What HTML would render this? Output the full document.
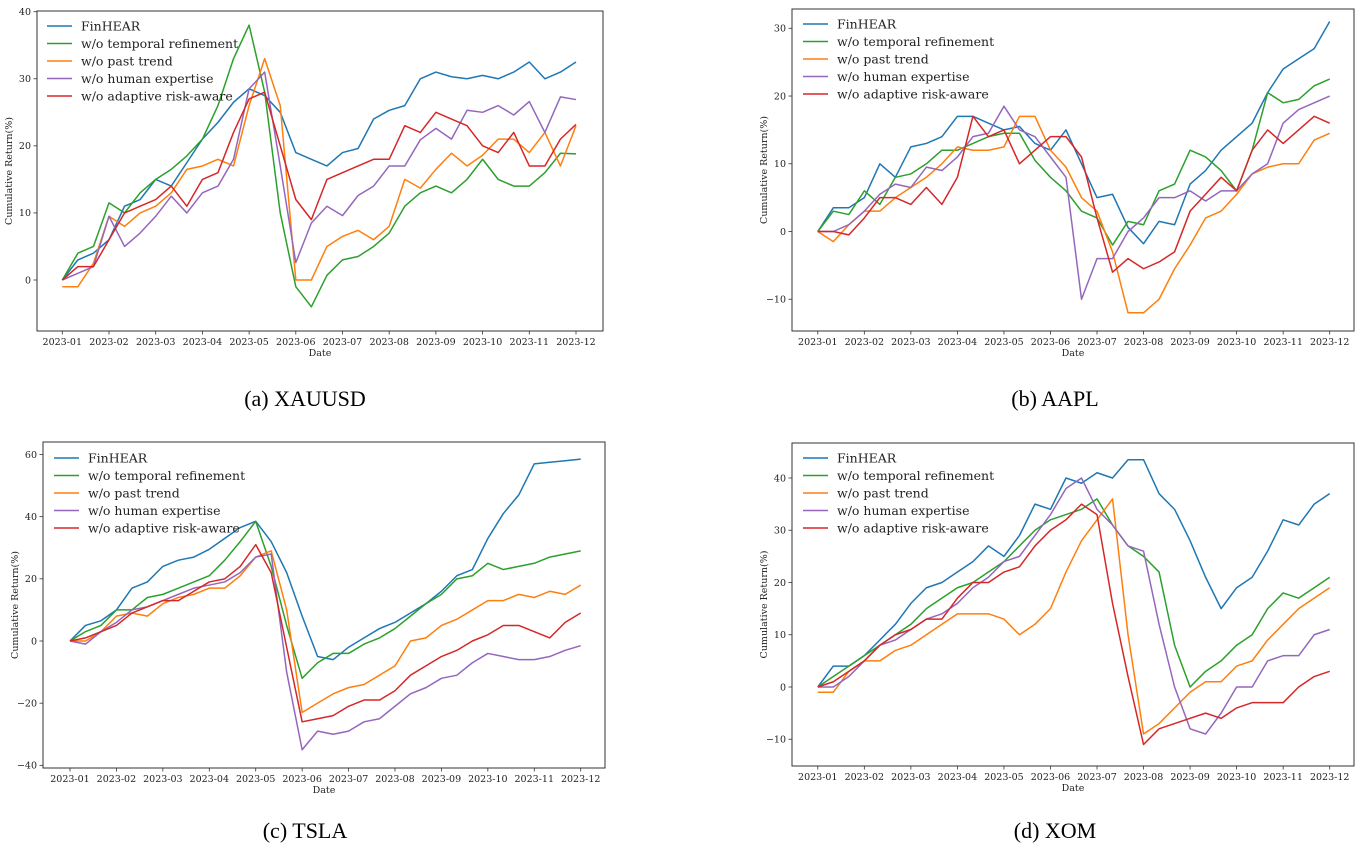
<!DOCTYPE html>
<html><head><meta charset="utf-8">
<style>
html,body{margin:0;padding:0;background:#fff;}
svg{display:block;}
text{font-family:"DejaVu Serif","Liberation Serif",serif;}
.cap{font-family:"Liberation Serif","Times New Roman",serif;font-size:22px;}
</style></head>
<body>
<svg id="fig" width="1356" height="846" viewBox="0 0 1356 846" xmlns="http://www.w3.org/2000/svg">
<text class="cap" x="305" y="406" text-anchor="middle">(a) XAUUSD</text>
<text class="cap" x="1055" y="406" text-anchor="middle">(b) AAPL</text>
<text class="cap" x="305" y="838" text-anchor="middle">(c) TSLA</text>
<text class="cap" x="1055" y="838" text-anchor="middle">(d) XOM</text>
</svg>
<script>
const monthLabels = ['2023-01','2023-02','2023-03','2023-04','2023-05','2023-06','2023-07','2023-08','2023-09','2023-10','2023-11','2023-12'];
const seriesNames = ['FinHEAR','w/o temporal refinement','w/o past trend','w/o human expertise','w/o adaptive risk-aware'];
// values sampled every 1/3 month from 2023-01 to 2023-12
const xauFinhear = [0,3,4,6,11,12,15,14,17.5,21,23.5,26.5,28.5,27.5,25,19,18,17,19,19.6,24,25.3,26,30,31,30.3,30,30.5,30,31,32.5,30,31,32.5];
const xauTemporal = [0,4,5,11.5,10,13,15,16.5,18.5,21,26,33,38,28,10,-1,-4,0.7,3,3.5,5,7,11,13,14,13,15,18,15,14,14,16,18.9,18.8];
const xauTrend = [-1,-1,2.5,9.5,8,10,11,13,16.5,17,18,17,26,33,26,0,0,5,6.5,7.4,6,8,15,13.7,16.5,18.9,17,18.6,21,21,19,22,17,23];
const xauHuman = [0,1,2,9.5,5,7,9.5,12.5,10,13,14,18,28.5,31,17,2.6,8.5,11,9.6,12.6,14,17,17,20.9,22.6,21,25.3,25,26,24.6,26.6,22,27.3,26.9];
const xauRisk = [0,2,2,6,10,11,12,14,11,15,16,22,27,28,20,12,9,15,16,17,18,18,23,22,25,24,23,20,19,22,17,17,21,23.2];

const aaplFinhear = [0,3.5,3.5,5,10,8,12.5,13,14,17,17,16,15,15.5,13,12,15,10,5,5.5,0.6,-1.8,1.5,1,7,9,12,14,16,20.5,24,25.5,27,31];
const aaplTemporal = [0,3,2.5,6,4,8,8.5,10,12,12,13,14,14.5,14.5,10.5,8,6,3,2,-2,1.5,1,6,7,12,11,9,6,12,20.5,19,19.5,21.5,22.5];
const aaplTrend = [0,-1.5,1,3,3,5,6.5,8,10,12.5,12,12,12.5,17,17,12,9.5,5,3,-3,-12,-12,-10,-5.5,-2,2,3,5.5,8.5,9.5,10,10,13.5,14.5];
const aaplHuman = [0,0,1,3,5.5,7,6.5,9.5,9,11,14,14.5,18.5,15,14,11,8,-10,-4,-4,0,2,5,5,6,4.5,6,6,8.5,10,16,18,19,20];
const aaplRisk = [0,0,-0.5,2,5,5,4,6.5,4,8,17,14,15,10,12,14,14,11,2,-6,-4,-5.5,-4.5,-3,3,5.5,8,6,12,15,13,15,17,16];

const tslaFinhear = [0,5,6.5,10,17,19,24,26,27,29.5,33,36.5,38.5,32,22,8,-5,-6,-2,1,4,6,9,12,16,21,23,33,41,47,57,57.5,58,58.5];
const tslaTemporal = [0,3,5,10,10,14,15,17,19,21,26,32,38.5,24,5,-12,-7,-4,-4,-1,1,4,8,12,15,20,21,25,23,24,25,27,28,29];
const tslaTrend = [0,0,3,8,9,8,12,14,15,17,17,21,27,29,10,-23,-20,-17,-15,-14,-11,-8,0,1,5,7,10,13,13,15,14,16,15,18];
const tslaHuman = [0,-1,3,6,10,11,13,15,17,18,19,22,27,28,-10,-35,-29,-30,-29,-26,-25,-21,-17,-15,-12,-11,-7,-4,-5,-6,-6,-5,-3,-1.5];
const tslaRisk = [0,1,3,5,9,11,13,13,16,19,20,24,31,22,-2,-26,-25,-24,-21,-19,-19,-16,-11,-8,-5,-3,0,2,5,5,3,1,6,9];

const xomFinhear = [0,4,4,6,9,12,16,19,20,22,24,27,25,29,35,34,40,39,41,40,43.5,43.5,37,34,28,21,15,19,21,26,32,31,35,37];
const xomTemporal = [0,2,4,6,8,10,12,15,17,19,20,22,24,27,30,32,33,34,36,31,27,25,22,8,0,3,5,8,10,15,18,17,19,21];
const xomTrend = [-1,-1,3,5,5,7,8,10,12,14,14,14,13,10,12,15,22,28,32,36,10,-9,-7,-4,-1,1,1,4,5,9,12,15,17,19];
const xomHuman = [0,0,2,5,8,9,11,13,14,16,19,21,24,25,29,33,38,40,34,31,27,26,12,0,-8,-9,-5,0,0,5,6,6,10,11];
const xomRisk = [0,1,3,5,8,10,11,13,13,17,20,20,22,23,27,30,32,35,33,16,2,-11,-8,-7,-6,-5,-6,-4,-3,-3,-3,0,2,3];

const xauTicks = [0,10,20,30,40];
const aaplTicks = [-10,0,10,20,30];
const tslaTicks = [-40,-20,0,20,40,60];
const xomTicks = [-10,0,10,20,30,40];

const colors = ['#1f77b4','#2ca02c','#ff7f0e','#9467bd','#d62728'];
const NS = 'http://www.w3.org/2000/svg';
const svg = document.getElementById('fig');

const panels = [
  {id:'xauusd', box:[37,11,603,331], xa:[62.3,576], ya:[0,280,40,11.7], ticks:xauTicks, series:[xauFinhear,xauTemporal,xauTrend,xauHuman,xauRisk], leg:[47,26]},
  {id:'aapl', box:[792,9,1354,331], xa:[817.8,1329.7], ya:[0,231.5,30,28.3], ticks:aaplTicks, series:[aaplFinhear,aaplTemporal,aaplTrend,aaplHuman,aaplRisk], leg:[803,24]},
  {id:'tsla', box:[43,442,605,768], xa:[70,580.7], ya:[0,641,60,454.5], ticks:tslaTicks, series:[tslaFinhear,tslaTemporal,tslaTrend,tslaHuman,tslaRisk], leg:[54,458]},
  {id:'xom', box:[792,443,1354,766], xa:[817.8,1329.7], ya:[0,687,40,478], ticks:xomTicks, series:[xomFinhear,xomTemporal,xomTrend,xomHuman,xomRisk], leg:[803,458]}
];

function mk(tag, attrs){
  const e = document.createElementNS(NS, tag);
  for (const k in attrs) e.setAttribute(k, attrs[k]);
  return e;
}

panels.forEach(p => {
  const [L,T,R,B] = p.box;
  const g = mk('g', {});
  
  
  svg.appendChild(g);
  const xScale = m => p.xa[0] + (p.xa[1]-p.xa[0]) * m / 11;
  const yScale = v => p.ya[1] + (p.ya[3]-p.ya[1]) * (v - p.ya[0]) / (p.ya[2]-p.ya[0]);

  // series
  p.series.forEach((vals, si) => {
    const pts = vals.map((v,i) => xScale(i/3).toFixed(2) + ',' + yScale(v).toFixed(2)).join(' ');
    const pl = mk('polyline', {points:pts, fill:'none', stroke:colors[si], 'stroke-width':1.5, 'stroke-linejoin':'round'});
    
    
    g.appendChild(pl);
  });

  // frame
  const fr = mk('rect', {x:L, y:T, width:R-L, height:B-T, fill:'none', stroke:'#333', 'stroke-width':1});
  
  
  g.appendChild(fr);

  // x ticks
  monthLabels.forEach((lab, i) => {
    const x = xScale(i);
    const tk = mk('line', {x1:x, x2:x, y1:B, y2:B+3.5, stroke:'#333', 'stroke-width':0.8});
    
    
    g.appendChild(tk);
    const t = mk('text', {x:x, y:B+14, 'font-size':9.5, 'text-anchor':'middle', fill:'#222'});
    t.textContent = lab;
    
    
    g.appendChild(t);
  });
  const xl = mk('text', {x:(L+R)/2, y:B+25, 'font-size':9.5, 'text-anchor':'middle', fill:'#222'});
  xl.textContent = 'Date';
  
  
  g.appendChild(xl);

  // y ticks
  p.ticks.forEach(v => {
    const y = yScale(v);
    const tk = mk('line', {x1:L-3.5, x2:L, y1:y, y2:y, stroke:'#333', 'stroke-width':0.8});
    
    
    g.appendChild(tk);
    const t = mk('text', {x:L-6, y:y+3.3, 'font-size':9.5, 'text-anchor':'end', fill:'#222'});
    t.textContent = v < 0 ? '\u2212' + Math.abs(v) : String(v);
    
    
    g.appendChild(t);
  });
  const yx = L - 25, yy = (T+B)/2;
  const yl = mk('text', {x:yx, y:yy, 'font-size':9.5, 'text-anchor':'middle', fill:'#222', transform:'rotate(-90 '+yx+' '+yy+')'});
  yl.textContent = 'Cumulative Return(%)';
  
  
  g.appendChild(yl);

  // legend
  seriesNames.forEach((n, si) => {
    const y = p.leg[1] + si*17.5;
    const ln = mk('line', {x1:p.leg[0], x2:p.leg[0]+25, y1:y, y2:y, stroke:colors[si], 'stroke-width':1.5});
    
    
    g.appendChild(ln);
    const t = mk('text', {x:p.leg[0]+34, y:y+4.5, 'font-size':12.5, fill:'#222'});
    t.textContent = n;
    
    
    g.appendChild(t);
  });
});
</script>
</body></html>
